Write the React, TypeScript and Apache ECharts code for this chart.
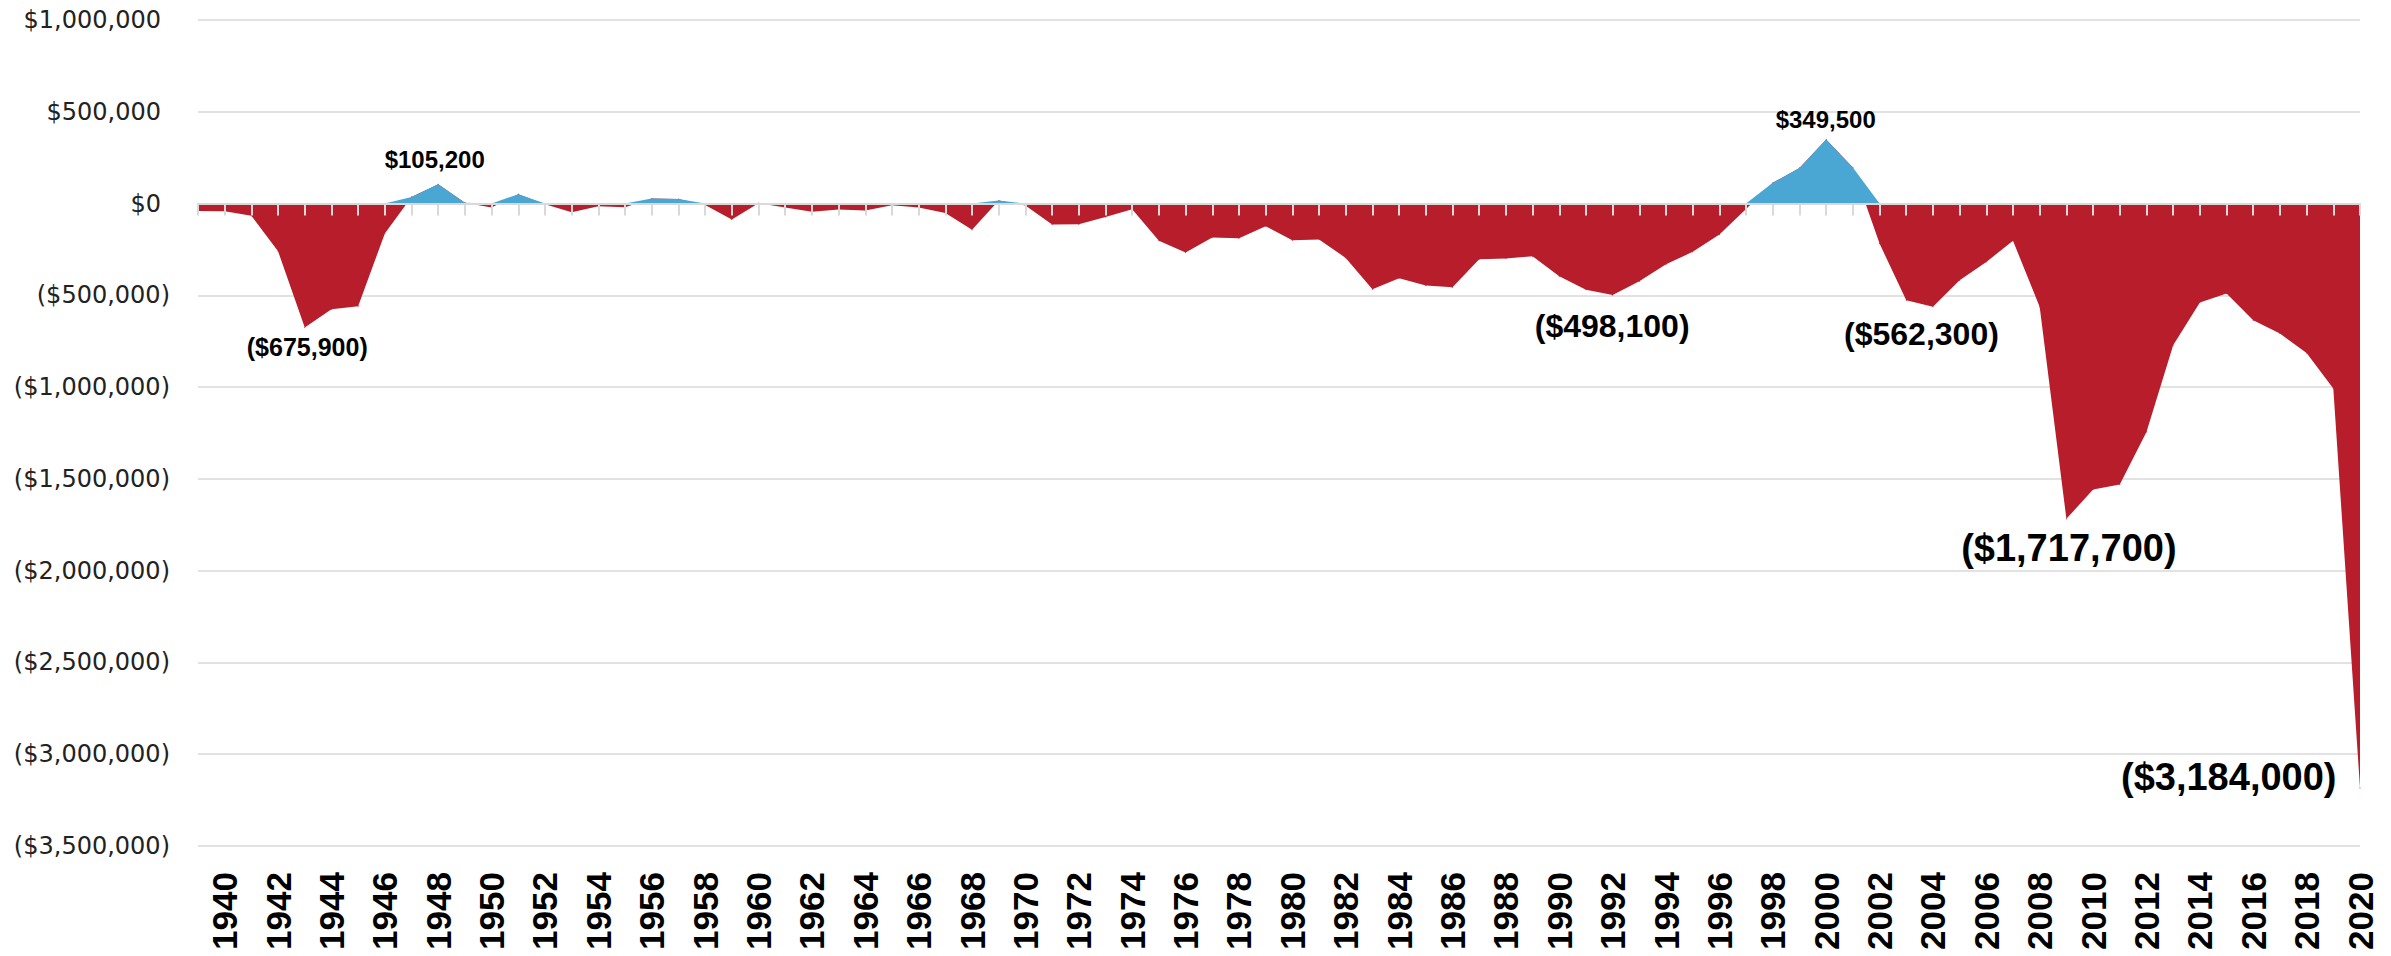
import React, { useEffect, useRef } from "react";
import * as echarts from "echarts";

// Fiscal years (category axis). 1939 is plotted but not labelled.
const years: string[] = [
  "1939", "1940", "1941", "1942", "1943", "1944", "1945", "1946", "1947", "1948",
  "1949", "1950", "1951", "1952", "1953", "1954", "1955", "1956", "1957", "1958",
  "1959", "1960", "1961", "1962", "1963", "1964", "1965", "1966", "1967", "1968",
  "1969", "1970", "1971", "1972", "1973", "1974", "1975", "1976", "1977", "1978",
  "1979", "1980", "1981", "1982", "1983", "1984", "1985", "1986", "1987", "1988",
  "1989", "1990", "1991", "1992", "1993", "1994", "1995", "1996", "1997", "1998",
  "1999", "2000", "2001", "2002", "2003", "2004", "2005", "2006", "2007", "2008",
  "2009", "2010", "2011", "2012", "2013", "2014", "2015", "2016", "2017", "2018",
  "2019", "2020",
];

// Surplus (+) / deficit (-) values
const surplusDeficit: number[] = [
  -40000, -42000, -67000, -260000, -675900, -576000, -559000, -163000, 36000, 105200,
  4000, -22000, 51000, -4000, -47000, -15000, -20000, 27000, 25000, -8000,
  -87000, 2000, -22000, -45000, -33000, -38000, -9000, -22000, -51000, -143000,
  16000, -10000, -114000, -113000, -73000, -31000, -203000, -267000, -185000, -189000,
  -123000, -200000, -196000, -296000, -467000, -407000, -447000, -456000, -303000, -300000,
  -287000, -396000, -469000, -498100, -423000, -331000, -263000, -169000, -30000, 113000,
  194000, 349500, 196000, -218000, -527000, -562300, -418000, -318000, -203000, -563000,
  -1717700, -1558000, -1531000, -1244000, -772000, -539000, -490000, -636000, -708000, -814000,
  -1008000, -3184000,
];

// Value axis ticks
const yMin = -3500000;
const yMax = 1000000;
const yStep = 500000;

// Years whose value is annotated
const annotatedYears: string[] = ["1943", "1948", "1992", "2000", "2004", "2009", "2020"];

const RED = "#B71D2B";
const BLUE = "#4AA7D3";
const GRID = "#d9d9d9";

function fmtMoney(v: number): string {
  const s = Math.abs(Math.round(v)).toLocaleString("en-US");
  return v < 0 ? `($${s})` : `$${s}`;
}

// Label placement/styles (not data)
const labelStyle: Record<string, { dx: number; dy: number; size: number; align?: string }> = {
  "1943": { dx: 3, dy: 20, size: 25 },
  "1948": { dx: -3, dy: -24, size: 24 },
  "1992": { dx: 0, dy: 32, size: 32 },
  "2000": { dx: 0, dy: -19, size: 24 },
  "2004": { dx: -11, dy: 28, size: 32 },
  "2009": { dx: 3, dy: 30, size: 38 },
  "2020": { dx: -23, dy: -10, size: 38, align: "right" },
};

export default function App() {
  const ref = useRef<HTMLDivElement>(null);

  useEffect(() => {
    if (!ref.current) return;
    const chart = echarts.init(ref.current, null, { renderer: "svg" });

    const redData = surplusDeficit.map((v, i) => {
      const y = years[i];
      if (!annotatedYears.includes(y)) return v;
      const c = labelStyle[y];
      return {
        value: v,
        label: {
          show: true,
          position: [c.dx, c.dy],
          align: c.align || "center",
          verticalAlign: "middle",
          fontSize: c.size,
        },
      };
    });
    const blueData = surplusDeficit.map((v) => Math.max(v, 0));

    const yFont = {
      fontFamily: "DejaVu Sans",
      fontSize: 24,
      color: "#222222",
    };

    chart.setOption({
      animation: false,
      backgroundColor: "#ffffff",
      grid: {
        left: 198,
        right: 31,
        top: 20,
        bottom: 110,
        containLabel: false,
        outerBoundsMode: "none",
      },
      xAxis: [
        {
          type: "category",
          data: years,
          boundaryGap: false,
          position: "bottom",
          z: 10,
          axisLine: { show: true, onZero: true, lineStyle: { color: GRID, width: 2 } },
          axisTick: { show: true, interval: 0, length: 12, lineStyle: { color: GRID, width: 2 } },
          axisLabel: { show: false },
          splitLine: { show: false },
        },
        {
          type: "category",
          data: years,
          boundaryGap: false,
          position: "bottom",
          axisLine: { show: false, onZero: false },
          axisTick: { show: false },
          splitLine: { show: false },
          axisLabel: {
            show: true,
            rotate: 90,
            margin: 26,
            interval: (_i: number, v: string) => Number(v) % 2 === 0,
            fontFamily: "Liberation Sans",
            fontWeight: "bold",
            fontSize: 35,
            color: "#000000",
          },
        },
      ],
      yAxis: {
        type: "value",
        min: yMin,
        max: yMax,
        interval: yStep,
        axisLine: { show: false },
        axisTick: { show: false },
        splitLine: { show: true, lineStyle: { color: GRID, width: 1.5 } },
        axisLabel: {
          margin: 28,
          ...yFont,
          formatter: (v: number) => (v < 0 ? `{n|${fmtMoney(v)}}` : `{p|${fmtMoney(v)}}`),
          rich: {
            n: { ...yFont },
            p: { ...yFont, padding: [0, 9, 0, 0] },
          },
        },
      },
      series: [
        {
          name: "Deficit",
          type: "line",
          xAxisIndex: 0,
          data: redData,
          z: 2,
          clip: false,
          silent: true,
          symbol: "circle",
          symbolSize: 1,
          showSymbol: true,
          showAllSymbol: true,
          itemStyle: { color: RED },
          lineStyle: { width: 0, opacity: 0 },
          areaStyle: { color: RED, opacity: 1 },
          label: {
            show: false,
            formatter: (p: any) => fmtMoney(typeof p.value === "number" ? p.value : p.value),
            fontFamily: "Liberation Sans",
            fontWeight: "bold",
            color: "#000000",
          },
        },
        {
          name: "Surplus",
          type: "line",
          xAxisIndex: 0,
          data: blueData,
          z: 3,
          silent: true,
          symbol: "none",
          showSymbol: false,
          itemStyle: { color: BLUE },
          lineStyle: { width: 0, opacity: 0 },
          areaStyle: { color: BLUE, opacity: 1 },
        },
      ],
    });

    return () => chart.dispose();
  }, []);

  return (
    <div
      ref={ref}
      style={{ position: "fixed", left: 0, top: 0, width: 2391, height: 956, background: "#fff" }}
    />
  );
}
